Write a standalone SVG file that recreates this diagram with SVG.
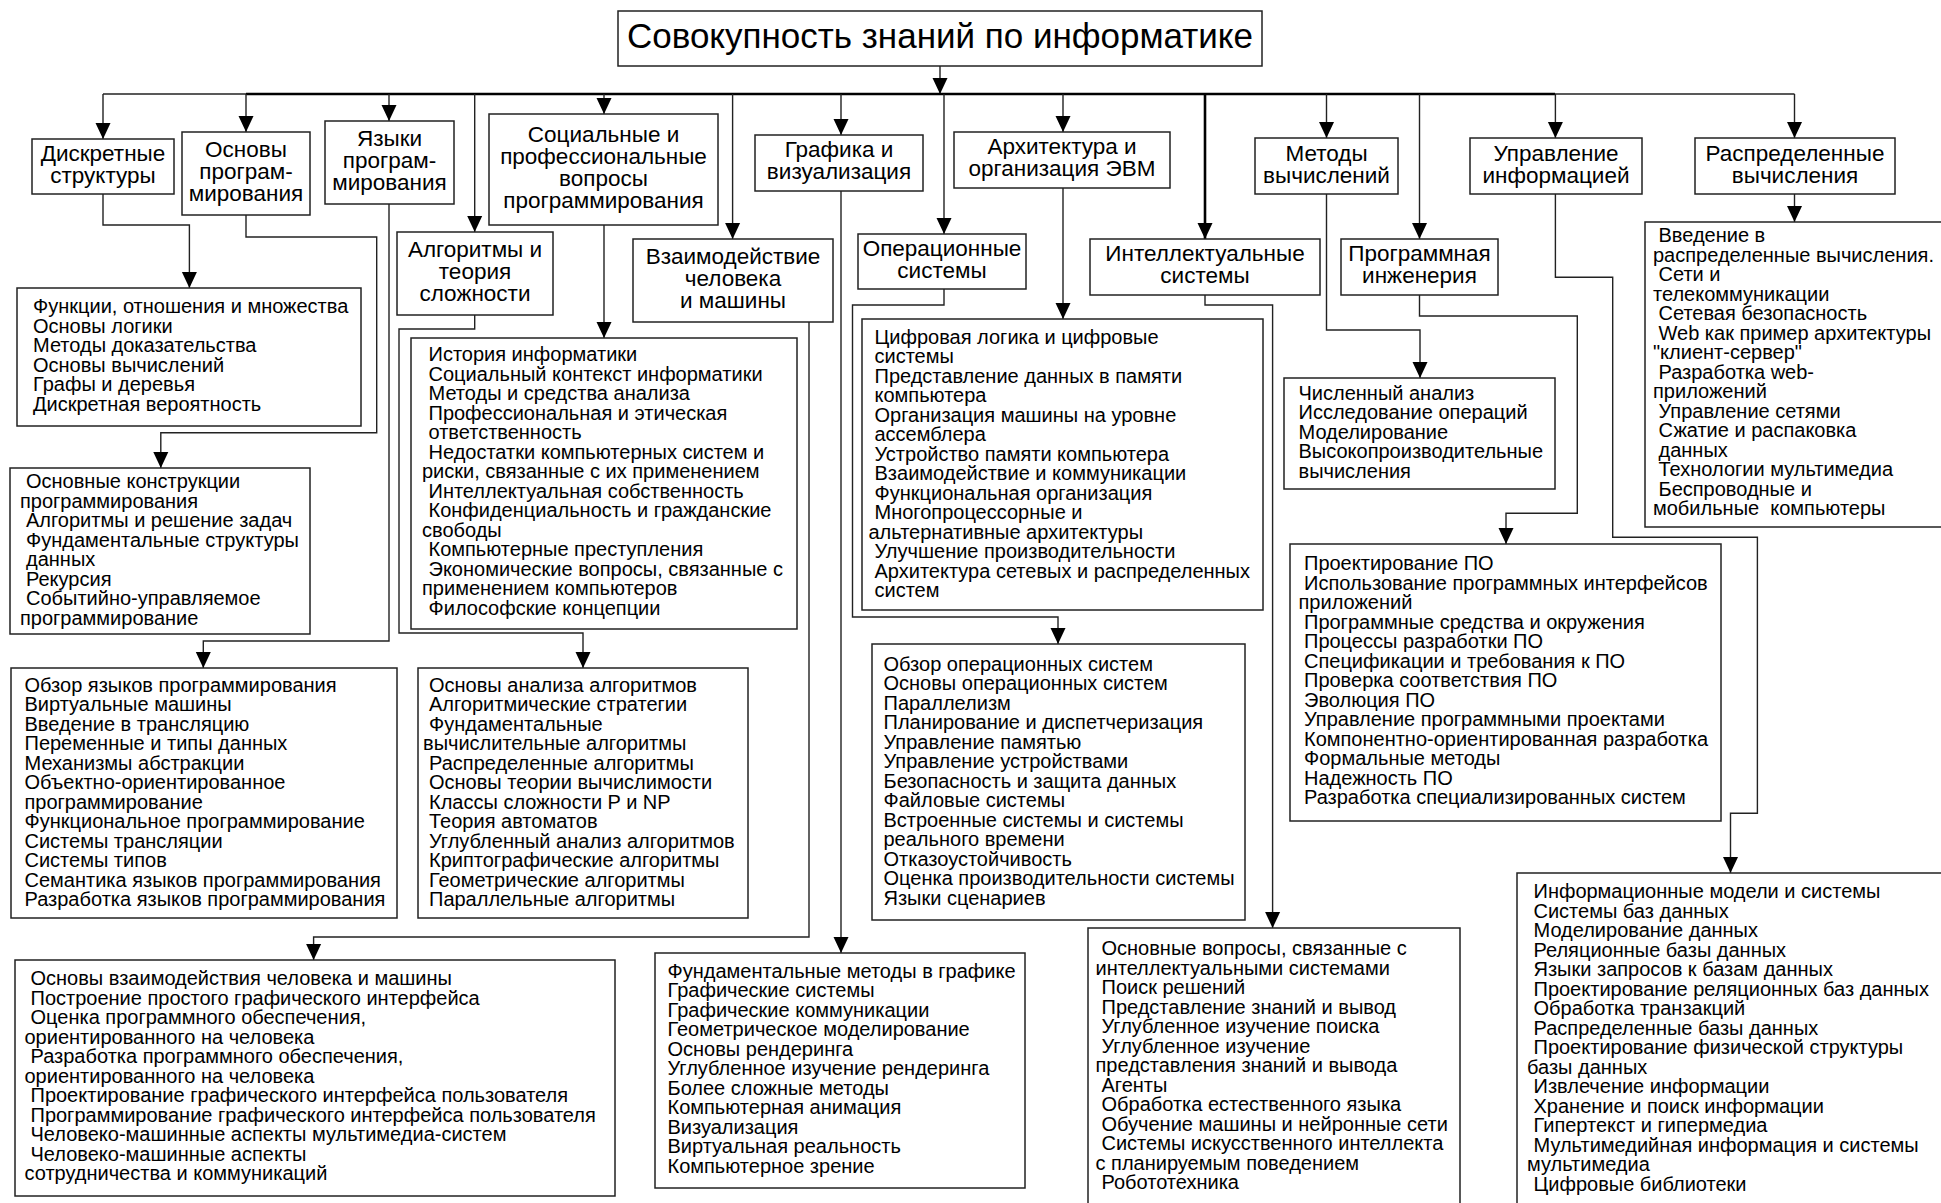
<svg xmlns="http://www.w3.org/2000/svg" width="1941" height="1203" viewBox="0 0 1941 1203">
<style>
.bx{fill:#fff;stroke:#222;stroke-width:1.5}
.ln{fill:none;stroke:#222;stroke-width:1.4}
.bold{stroke-width:2.6;stroke:#000}
text{font-family:"Liberation Sans",Arial,sans-serif;fill:#000}
.ti{font-size:35px;text-anchor:middle}
.hd{font-size:22.5px;text-anchor:middle}
.tx{font-size:20px}
</style>
<defs>
<marker id="ah" markerUnits="userSpaceOnUse" markerWidth="16" markerHeight="16" viewBox="0 0 16 16" refX="16" refY="8" orient="auto">
<path d="M0,0.5 L16,8 L0,15.5 z" fill="#000"/>
</marker>
</defs>
<rect width="1941" height="1203" fill="#fff"/>

<!-- connectors -->
<g id="connectors">
<path class="ln" d="M940,66 V94" marker-end="url(#ah)"/>
<path class="ln" d="M103,94 H246"/>
<path class="ln bold" d="M246,94 H1555"/>
<path class="ln" d="M1555,94 H1794.5"/>
<path class="ln" d="M103,94 V139" marker-end="url(#ah)"/>
<path class="ln" d="M246,94 V132" marker-end="url(#ah)"/>
<path class="ln" d="M389,94 V121" marker-end="url(#ah)"/>
<path class="ln" d="M474.7,94 V232" marker-end="url(#ah)"/>
<path class="ln" d="M604,94 V114" marker-end="url(#ah)"/>
<path class="ln" d="M732.6,94 V239" marker-end="url(#ah)"/>
<path class="ln" d="M841,94 V135" marker-end="url(#ah)"/>
<path class="ln" d="M944,94 V234" marker-end="url(#ah)"/>
<path class="ln" d="M1063,94 V132" marker-end="url(#ah)"/>
<path class="ln bold" d="M1205,94 V239" marker-end="url(#ah)"/>
<path class="ln" d="M1326.5,94 V138" marker-end="url(#ah)"/>
<path class="ln" d="M1419.5,94 V239" marker-end="url(#ah)"/>
<path class="ln" d="M1555.4,94 V138" marker-end="url(#ah)"/>
<path class="ln" d="M1794.5,94 V138" marker-end="url(#ah)"/>

<path class="ln" d="M103,194 V225 H189.4 V288" marker-end="url(#ah)"/>
<path class="ln" d="M246,215 V237 H376.7 V432.7 H160.8 V468" marker-end="url(#ah)"/>
<path class="ln" d="M389,204 V641 H203.3 V668" marker-end="url(#ah)"/>
<path class="ln" d="M474.7,315 V329 H399 V633 H583 V668" marker-end="url(#ah)"/>
<path class="ln" d="M604,225 V338" marker-end="url(#ah)"/>
<path class="ln" d="M809,322 V937 H313.6 V960" marker-end="url(#ah)"/>
<path class="ln" d="M841,191 V953" marker-end="url(#ah)"/>
<path class="ln" d="M944,289 V305 H852.5 V617 H1058 V644" marker-end="url(#ah)"/>
<path class="ln" d="M1063,188 V319" marker-end="url(#ah)"/>
<path class="ln" d="M1205,295 V305 H1272.6 V928" marker-end="url(#ah)"/>
<path class="ln" d="M1326.5,194 V330 H1420 V378" marker-end="url(#ah)"/>
<path class="ln" d="M1419.5,295 V316 H1577.3 V513.3 H1506 V544" marker-end="url(#ah)"/>
<path class="ln" d="M1555.4,194 V277.3 H1612.7 V537.3 H1757.4 V813.3 H1730.5 V873" marker-end="url(#ah)"/>
<path class="ln" d="M1794.5,194 V222" marker-end="url(#ah)"/>
</g>

<!-- root -->
<g id="root">
<rect class="bx" x="618" y="11" width="644" height="55"/>
<text class="ti" x="940" y="48">Совокупность знаний по информатике</text>
</g>

<!-- area headers -->
<g id="ds">
<rect class="bx" x="32" y="139" width="142" height="55"/>
<text class="hd"><tspan x="103" y="161">Дискретные</tspan><tspan x="103" y="183">структуры</tspan></text>
</g>
<g id="pf">
<rect class="bx" x="182" y="132" width="128" height="83"/>
<text class="hd"><tspan x="246" y="157">Основы</tspan><tspan x="246" y="179">програм-</tspan><tspan x="246" y="201">мирования</tspan></text>
</g>
<g id="pl">
<rect class="bx" x="325" y="121" width="129" height="83"/>
<text class="hd"><tspan x="389.5" y="146">Языки</tspan><tspan x="389.5" y="168">програм-</tspan><tspan x="389.5" y="190">мирования</tspan></text>
</g>
<g id="al">
<rect class="bx" x="397" y="232" width="156" height="83"/>
<text class="hd"><tspan x="475" y="257">Алгоритмы и</tspan><tspan x="475" y="279">теория</tspan><tspan x="475" y="301">сложности</tspan></text>
</g>
<g id="sp">
<rect class="bx" x="489" y="114" width="229" height="111"/>
<text class="hd"><tspan x="603.5" y="142">Социальные и</tspan><tspan x="603.5" y="164">профессиональные</tspan><tspan x="603.5" y="186">вопросы</tspan><tspan x="603.5" y="208">программирования</tspan></text>
</g>
<g id="hc">
<rect class="bx" x="633" y="239" width="200" height="83"/>
<text class="hd"><tspan x="733" y="264">Взаимодействие</tspan><tspan x="733" y="286">человека</tspan><tspan x="733" y="308">и машины</tspan></text>
</g>
<g id="gv">
<rect class="bx" x="755" y="135" width="168" height="56"/>
<text class="hd"><tspan x="839" y="157">Графика и</tspan><tspan x="839" y="179">визуализация</tspan></text>
</g>
<g id="os">
<rect class="bx" x="858" y="234" width="168" height="55"/>
<text class="hd"><tspan x="942" y="256">Операционные</tspan><tspan x="942" y="278">системы</tspan></text>
</g>
<g id="ar">
<rect class="bx" x="954" y="132" width="216" height="56"/>
<text class="hd"><tspan x="1062" y="154">Архитектура и</tspan><tspan x="1062" y="176">организация ЭВМ</tspan></text>
</g>
<g id="is">
<rect class="bx" x="1090" y="239" width="230" height="56"/>
<text class="hd"><tspan x="1205" y="261">Интеллектуальные</tspan><tspan x="1205" y="283">системы</tspan></text>
</g>
<g id="cn">
<rect class="bx" x="1255" y="138" width="143" height="56"/>
<text class="hd"><tspan x="1326.5" y="161">Методы</tspan><tspan x="1326.5" y="183">вычислений</tspan></text>
</g>
<g id="se">
<rect class="bx" x="1341" y="239" width="157" height="56"/>
<text class="hd"><tspan x="1419.5" y="261">Программная</tspan><tspan x="1419.5" y="283">инженерия</tspan></text>
</g>
<g id="im">
<rect class="bx" x="1470" y="138" width="172" height="56"/>
<text class="hd"><tspan x="1556" y="161">Управление</tspan><tspan x="1556" y="183">информацией</tspan></text>
</g>
<g id="nc">
<rect class="bx" x="1695" y="138" width="200" height="56"/>
<text class="hd"><tspan x="1795" y="161">Распределенные</tspan><tspan x="1795" y="183">вычисления</tspan></text>
</g>

<!-- topic lists -->
<g id="ds-list">
<rect class="bx" x="17" y="288" width="344" height="138"/>
<text class="tx"><tspan x="33" y="313">Функции, отношения и множества</tspan><tspan x="33" y="332.5">Основы логики</tspan><tspan x="33" y="352">Методы доказательства</tspan><tspan x="33" y="371.5">Основы вычислений</tspan><tspan x="33" y="391">Графы и деревья</tspan><tspan x="33" y="410.5">Дискретная вероятность</tspan></text>
</g>
<g id="pf-list">
<rect class="bx" x="10" y="468" width="300" height="166"/>
<text class="tx"><tspan x="26" y="488">Основные конструкции</tspan><tspan x="20" y="507.5">программирования</tspan><tspan x="26" y="527">Алгоритмы и решение задач</tspan><tspan x="26" y="546.5">Фундаментальные структуры</tspan><tspan x="26" y="566">данных</tspan><tspan x="26" y="585.5">Рекурсия</tspan><tspan x="26" y="605">Событийно-управляемое</tspan><tspan x="20" y="624.5">программирование</tspan></text>
</g>
<g id="pl-list">
<rect class="bx" x="11" y="668" width="386" height="250"/>
<text class="tx"><tspan x="24.5" y="691.5">Обзор языков программирования</tspan><tspan x="24.5" y="711">Виртуальные машины</tspan><tspan x="24.5" y="730.5">Введение в трансляцию</tspan><tspan x="24.5" y="750">Переменные и типы данных</tspan><tspan x="24.5" y="769.5">Механизмы абстракции</tspan><tspan x="24.5" y="789">Объектно-ориентированное</tspan><tspan x="24.5" y="808.5">программирование</tspan><tspan x="24.5" y="828">Функциональное программирование</tspan><tspan x="24.5" y="847.5">Системы трансляции</tspan><tspan x="24.5" y="867">Системы типов</tspan><tspan x="24.5" y="886.5">Семантика языков программирования</tspan><tspan x="24.5" y="906">Разработка языков программирования</tspan></text>
</g>
<g id="al-list">
<rect class="bx" x="418" y="668" width="330" height="250"/>
<text class="tx"><tspan x="429" y="691.5">Основы анализа алгоритмов</tspan><tspan x="429" y="711">Алгоритмические стратегии</tspan><tspan x="429" y="730.5">Фундаментальные</tspan><tspan x="423" y="750">вычислительные алгоритмы</tspan><tspan x="429" y="769.5">Распределенные алгоритмы</tspan><tspan x="429" y="789">Основы теории вычислимости</tspan><tspan x="429" y="808.5">Классы сложности P и NP</tspan><tspan x="429" y="828">Теория автоматов</tspan><tspan x="429" y="847.5">Углубленный анализ алгоритмов</tspan><tspan x="429" y="867">Криптографические алгоритмы</tspan><tspan x="429" y="886.5">Геометрические алгоритмы</tspan><tspan x="429" y="906">Параллельные алгоритмы</tspan></text>
</g>
<g id="sp-list">
<rect class="bx" x="411" y="338" width="386" height="291"/>
<text class="tx"><tspan x="428.5" y="361">История информатики</tspan><tspan x="428.5" y="380.5">Социальный контекст информатики</tspan><tspan x="428.5" y="400">Методы и средства анализа</tspan><tspan x="428.5" y="419.5">Профессиональная и этическая</tspan><tspan x="428.5" y="439">ответственность</tspan><tspan x="428.5" y="458.5">Недостатки компьютерных систем и</tspan><tspan x="422" y="478">риски, связанные с их применением</tspan><tspan x="428.5" y="497.5">Интеллектуальная собственность</tspan><tspan x="428.5" y="517">Конфиденциальность и гражданские</tspan><tspan x="422" y="536.5">свободы</tspan><tspan x="428.5" y="556">Компьютерные преступления</tspan><tspan x="428.5" y="575.5">Экономические вопросы, связанные с</tspan><tspan x="422" y="595">применением компьютеров</tspan><tspan x="428.5" y="614.5">Философские концепции</tspan></text>
</g>
<g id="hc-list">
<rect class="bx" x="15" y="960" width="600" height="236"/>
<text class="tx"><tspan x="30.5" y="985">Основы взаимодействия человека и машины</tspan><tspan x="30.5" y="1004.5">Построение простого графического интерфейса</tspan><tspan x="30.5" y="1024">Оценка программного обеспечения,</tspan><tspan x="24.5" y="1043.5">ориентированного на человека</tspan><tspan x="30.5" y="1063">Разработка программного обеспечения,</tspan><tspan x="24.5" y="1082.5">ориентированного на человека</tspan><tspan x="30.5" y="1102">Проектирование графического интерфейса пользователя</tspan><tspan x="30.5" y="1121.5">Программирование графического интерфейса пользователя</tspan><tspan x="30.5" y="1141">Человеко-машинные аспекты мультимедиа-систем</tspan><tspan x="30.5" y="1160.5">Человеко-машинные аспекты</tspan><tspan x="24.5" y="1180">сотрудничества и коммуникаций</tspan></text>
</g>
<g id="gv-list">
<rect class="bx" x="655" y="953" width="370" height="235"/>
<text class="tx"><tspan x="667.5" y="977.5">Фундаментальные методы в графике</tspan><tspan x="667.5" y="997">Графические системы</tspan><tspan x="667.5" y="1016.5">Графические коммуникации</tspan><tspan x="667.5" y="1036">Геометрическое моделирование</tspan><tspan x="667.5" y="1055.5">Основы рендеринга</tspan><tspan x="667.5" y="1075">Углубленное изучение рендеринга</tspan><tspan x="667.5" y="1094.5">Более сложные методы</tspan><tspan x="667.5" y="1114">Компьютерная анимация</tspan><tspan x="667.5" y="1133.5">Визуализация</tspan><tspan x="667.5" y="1153">Виртуальная реальность</tspan><tspan x="667.5" y="1172.5">Компьютерное зрение</tspan></text>
</g>
<g id="ar-list">
<rect class="bx" x="862" y="319" width="401" height="291"/>
<text class="tx"><tspan x="874.5" y="343.5">Цифровая логика и цифровые</tspan><tspan x="874.5" y="363">системы</tspan><tspan x="874.5" y="382.5">Представление данных в памяти</tspan><tspan x="874.5" y="402">компьютера</tspan><tspan x="874.5" y="421.5">Организация машины на уровне</tspan><tspan x="874.5" y="441">ассемблера</tspan><tspan x="874.5" y="460.5">Устройство памяти компьютера</tspan><tspan x="874.5" y="480">Взаимодействие и коммуникации</tspan><tspan x="874.5" y="499.5">Функциональная организация</tspan><tspan x="874.5" y="519">Многопроцессорные и</tspan><tspan x="868.5" y="538.5">альтернативные архитектуры</tspan><tspan x="874.5" y="558">Улучшение производительности</tspan><tspan x="874.5" y="577.5">Архитектура сетевых и распределенных</tspan><tspan x="874.5" y="597">систем</tspan></text>
</g>
<g id="os-list">
<rect class="bx" x="872" y="644" width="373" height="276"/>
<text class="tx"><tspan x="883.5" y="670.5">Обзор операционных систем</tspan><tspan x="883.5" y="690">Основы операционных систем</tspan><tspan x="883.5" y="709.5">Параллелизм</tspan><tspan x="883.5" y="729">Планирование и диспетчеризация</tspan><tspan x="883.5" y="748.5">Управление памятью</tspan><tspan x="883.5" y="768">Управление устройствами</tspan><tspan x="883.5" y="787.5">Безопасность и защита данных</tspan><tspan x="883.5" y="807">Файловые системы</tspan><tspan x="883.5" y="826.5">Встроенные системы и системы</tspan><tspan x="883.5" y="846">реального времени</tspan><tspan x="883.5" y="865.5">Отказоустойчивость</tspan><tspan x="883.5" y="885">Оценка производительности системы</tspan><tspan x="883.5" y="904.5">Языки сценариев</tspan></text>
</g>
<g id="is-list">
<rect class="bx" x="1088" y="928" width="372" height="290"/>
<text class="tx"><tspan x="1101.5" y="955">Основные вопросы, связанные с</tspan><tspan x="1095.5" y="974.5">интеллектуальными системами</tspan><tspan x="1101.5" y="994">Поиск решений</tspan><tspan x="1101.5" y="1013.5">Представление знаний и вывод</tspan><tspan x="1101.5" y="1033">Углубленное изучение поиска</tspan><tspan x="1101.5" y="1052.5">Углубленное изучение</tspan><tspan x="1095.5" y="1072">представления знаний и вывода</tspan><tspan x="1101.5" y="1091.5">Агенты</tspan><tspan x="1101.5" y="1111">Обработка естественного языка</tspan><tspan x="1101.5" y="1130.5">Обучение машины и нейронные сети</tspan><tspan x="1101.5" y="1150">Системы искусственного интеллекта</tspan><tspan x="1095.5" y="1169.5">с планируемым поведением</tspan><tspan x="1101.5" y="1189">Робототехника</tspan></text>
</g>
<g id="cn-list">
<rect class="bx" x="1284" y="378" width="271" height="111"/>
<text class="tx"><tspan x="1298.5" y="399.5">Численный анализ</tspan><tspan x="1298.5" y="419">Исследование операций</tspan><tspan x="1298.5" y="438.5">Моделирование</tspan><tspan x="1298.5" y="458">Высокопроизводительные</tspan><tspan x="1298.5" y="477.5">вычисления</tspan></text>
</g>
<g id="se-list">
<rect class="bx" x="1290" y="544" width="431" height="277"/>
<text class="tx"><tspan x="1304" y="570">Проектирование ПО</tspan><tspan x="1304" y="589.5">Использование программных интерфейсов</tspan><tspan x="1298.5" y="609">приложений</tspan><tspan x="1304" y="628.5">Программные средства и окружения</tspan><tspan x="1304" y="648">Процессы разработки ПО</tspan><tspan x="1304" y="667.5">Спецификации и требования к ПО</tspan><tspan x="1304" y="687">Проверка соответствия ПО</tspan><tspan x="1304" y="706.5">Эволюция ПО</tspan><tspan x="1304" y="726">Управление программными проектами</tspan><tspan x="1304" y="745.5">Компонентно-ориентированная разработка</tspan><tspan x="1304" y="765">Формальные методы</tspan><tspan x="1304" y="784.5">Надежность ПО</tspan><tspan x="1304" y="804">Разработка специализированных систем</tspan></text>
</g>
<g id="im-list">
<rect class="bx" x="1517" y="873" width="450" height="350"/>
<text class="tx"><tspan x="1533.5" y="898">Информационные модели и системы</tspan><tspan x="1533.5" y="917.5">Системы баз данных</tspan><tspan x="1533.5" y="937">Моделирование данных</tspan><tspan x="1533.5" y="956.5">Реляционные базы данных</tspan><tspan x="1533.5" y="976">Языки запросов к базам данных</tspan><tspan x="1533.5" y="995.5">Проектирование реляционных баз данных</tspan><tspan x="1533.5" y="1015">Обработка транзакций</tspan><tspan x="1533.5" y="1034.5">Распределенные базы данных</tspan><tspan x="1533.5" y="1054">Проектирование физической структуры</tspan><tspan x="1527" y="1073.5">базы данных</tspan><tspan x="1533.5" y="1093">Извлечение информации</tspan><tspan x="1533.5" y="1112.5">Хранение и поиск информации</tspan><tspan x="1533.5" y="1132">Гипертекст и гипермедиа</tspan><tspan x="1533.5" y="1151.5">Мультимедийная информация и системы</tspan><tspan x="1527" y="1171">мультимедиа</tspan><tspan x="1533.5" y="1190.5">Цифровые библиотеки</tspan></text>
</g>
<g id="nc-list">
<rect class="bx" x="1645" y="222" width="320" height="305"/>
<text class="tx"><tspan x="1658.5" y="242">Введение в</tspan><tspan x="1653" y="261.5">распределенные вычисления.</tspan><tspan x="1658.5" y="281">Сети и</tspan><tspan x="1653" y="300.5">телекоммуникации</tspan><tspan x="1658.5" y="320">Сетевая безопасность</tspan><tspan x="1658.5" y="339.5">Web как пример архитектуры</tspan><tspan x="1653" y="359">"клиент-сервер"</tspan><tspan x="1658.5" y="378.5">Разработка web-</tspan><tspan x="1653" y="398">приложений</tspan><tspan x="1658.5" y="417.5">Управление сетями</tspan><tspan x="1658.5" y="437">Сжатие и распаковка</tspan><tspan x="1658.5" y="456.5">данных</tspan><tspan x="1658.5" y="476">Технологии мультимедиа</tspan><tspan x="1658.5" y="495.5">Беспроводные и</tspan><tspan x="1653" y="515">мобильные&#160; компьютеры</tspan></text>
</g>
</svg>
